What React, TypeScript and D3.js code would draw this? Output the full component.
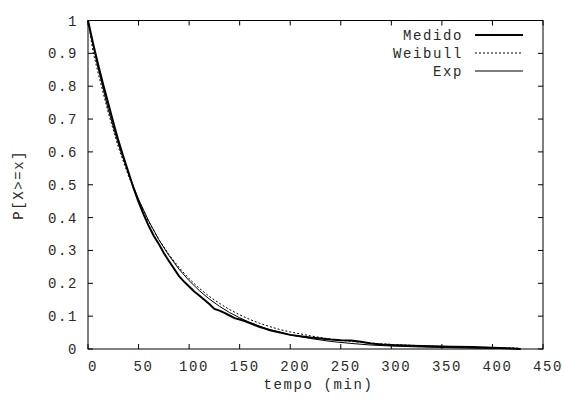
import React from "react";
import * as d3 from "d3";

const medidoT = [0, 5, 10, 15, 20, 25, 30, 35, 40, 45, 50, 55, 60, 65, 70, 75, 80, 85, 90, 95, 100, 105, 110, 115, 120, 125, 130, 135, 140, 145, 150, 155, 160, 165, 170, 175, 180, 190, 200, 210, 220, 230, 240, 250, 260, 270, 280, 290, 300, 320, 340, 360, 380, 400, 415, 428];
const medidoP = [1.0, 0.93, 0.866, 0.805, 0.748, 0.69, 0.635, 0.585, 0.538, 0.49, 0.448, 0.41, 0.375, 0.345, 0.32, 0.292, 0.268, 0.245, 0.222, 0.205, 0.19, 0.175, 0.163, 0.15, 0.137, 0.122, 0.117, 0.11, 0.102, 0.094, 0.09, 0.085, 0.079, 0.073, 0.067, 0.062, 0.057, 0.05, 0.043, 0.039, 0.035, 0.032, 0.029, 0.027, 0.026, 0.022, 0.017, 0.014, 0.012, 0.010, 0.008, 0.007, 0.006, 0.004, 0.002, 0.0];

const fitT = [0, 5, 10, 20, 30, 40, 50, 60, 70, 80, 90, 100, 110, 120, 130, 140, 150, 160, 170, 180, 190, 200, 220, 240, 260, 280, 300, 330, 360, 390, 425];
const weibullP = [1.0, 0.905, 0.84, 0.72, 0.615, 0.527, 0.452, 0.388, 0.334, 0.288, 0.248, 0.214, 0.185, 0.16, 0.139, 0.12, 0.104, 0.09, 0.078, 0.068, 0.059, 0.052, 0.04, 0.03, 0.023, 0.018, 0.014, 0.01, 0.007, 0.005, 0.003];
const expP = [1.0, 0.925, 0.855, 0.73, 0.624, 0.534, 0.456, 0.39, 0.333, 0.285, 0.243, 0.208, 0.178, 0.152, 0.13, 0.111, 0.095, 0.081, 0.069, 0.059, 0.051, 0.043, 0.032, 0.023, 0.017, 0.012, 0.009, 0.006, 0.004, 0.002, 0.001];

const xTicks = [0, 50, 100, 150, 200, 250, 300, 350, 400, 450];
const yTicks = [0, 0.1, 0.2, 0.3, 0.4, 0.5, 0.6, 0.7, 0.8, 0.9, 1];
const yTickLabels = ["0", "0.1", "0.2", "0.3", "0.4", "0.5", "0.6", "0.7", "0.8", "0.9", "1"];
const seriesNames = ["Medido", "Weibull", "Exp"];

const W = 564, H = 401;
const L = 88, R = 543, T = 20.5, B = 349;

export default function App() {
  const x = d3.scaleLinear().domain([0, 450]).range([L, R]);
  const y = d3.scaleLinear().domain([0, 1]).range([B, T]);
  const line = d3.line<[number, number]>().x(d => x(d[0])).y(d => y(d[1]));
  const medido = medidoT.map((t, i) => [t, medidoP[i]] as [number, number]);
  const weibull = fitT.map((t, i) => [t, weibullP[i]] as [number, number]);
  const exp = fitT.map((t, i) => [t, expP[i]] as [number, number]);
  const font = { fontFamily: "'Liberation Mono', monospace", fontSize: 14, letterSpacing: 1.6, fill: "#2a2a2a" } as any;
  const styles = [
    { w: 2, dash: undefined },
    { w: 1, dash: "2,2" },
    { w: 1, dash: undefined },
  ];
  return (
    <svg width={W} height={H} style={{ position: "absolute", left: 0, top: 0, background: "#fff" }}>
      <rect x={0} y={0} width={W} height={H} fill="#fff" />
      {xTicks.map(t => (
        <g key={"x" + t}>
          <line x1={x(t)} x2={x(t)} y1={B} y2={B - 5} stroke="#000" strokeWidth={1} />
          <line x1={x(t)} x2={x(t)} y1={T} y2={T + 5} stroke="#000" strokeWidth={1} />
          <text x={x(t) + 5} y={371} textAnchor="middle" {...font}>{t}</text>
        </g>
      ))}
      {yTicks.map((t, i) => (
        <g key={"y" + t}>
          <line x1={L} x2={L + 5} y1={y(t)} y2={y(t)} stroke="#000" strokeWidth={1} />
          <line x1={R} x2={R - 5} y1={y(t)} y2={y(t)} stroke="#000" strokeWidth={1} />
          <text x={78} y={y(t) + 5} textAnchor="end" {...font}>{yTickLabels[i]}</text>
        </g>
      ))}
      <rect x={L} y={T} width={R - L} height={B - T} fill="none" stroke="#000" strokeWidth={1} />
      <text x={(L + R) / 2 + 3} y={389} textAnchor="middle" {...font}>tempo (min)</text>
      <text transform={`translate(23,${(T + B) / 2}) rotate(-90)`} textAnchor="middle" {...font}>P[X&gt;=x]</text>
      <path d={line(weibull) || ""} fill="none" stroke="#000" strokeWidth={1} strokeDasharray="2,2" />
      <path d={line(exp) || ""} fill="none" stroke="#000" strokeWidth={1} />
      <path d={line(medido) || ""} fill="none" stroke="#000" strokeWidth={2} />
      {seriesNames.map((n, i) => (
        <g key={n}>
          <text x={463} y={40 + i * 18} textAnchor="end" {...font}>{n}</text>
          <line x1={475} x2={523} y1={35 + i * 18} y2={35 + i * 18} stroke="#000" strokeWidth={styles[i].w} strokeDasharray={styles[i].dash} />
        </g>
      ))}
    </svg>
  );
}
